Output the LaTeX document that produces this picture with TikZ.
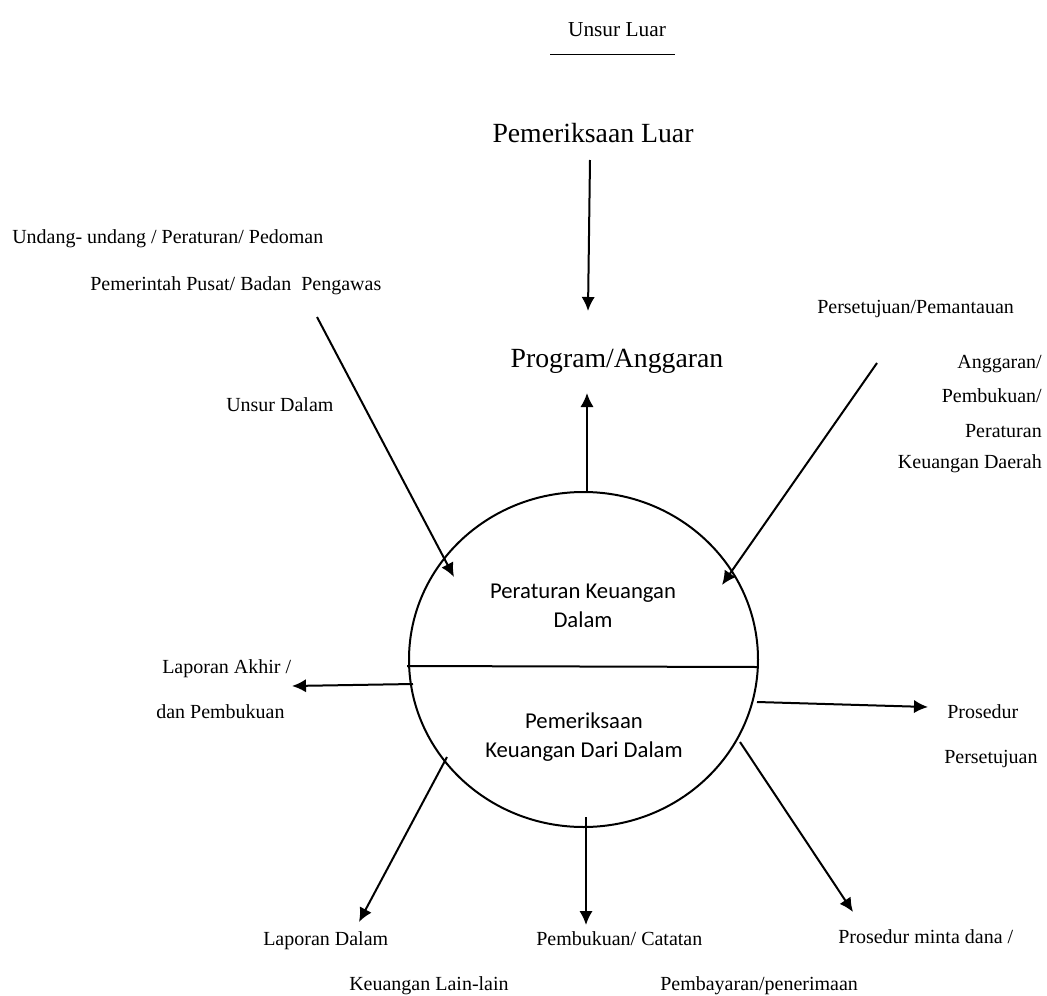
\documentclass[tikz,border=0pt]{standalone}
\usepackage{fontspec}
\setmainfont{Liberation Serif}
\newfontfamily\calibri{Carlito}
\usetikzlibrary{arrows.meta}

\begin{document}
\begin{tikzpicture}[x=0.75pt,y=-0.75pt,
    lbl/.style={font=\fontsize{15}{18}\selectfont, inner sep=0pt, anchor=base west},
    lblr/.style={lbl, anchor=base east},
    big/.style={font=\fontsize{20.8}{24}\selectfont, inner sep=0pt, anchor=base},
    inside/.style={font=\calibri\fontsize{17}{21.75}\selectfont, align=center, inner sep=0pt},
    flow/.style={line width=1.5pt, -{Latex[length=10.5pt,width=10pt]}}]
  \useasboundingbox (0,0) rectangle (1047,996);
  \def\rx{174.5}
  \def\ry{167.5}

  % centre: ellipse split in two
  \coordinate (ctr) at (583.5,659.5);
  \draw[line width=1.5pt] (ctr) ellipse [x radius=\rx, y radius=\ry];
  \coordinate (divL) at (407,666);
  \coordinate (divR) at (757,667);
  \draw[line width=1.5pt] (divL) -- (divR);
  \node[inside] (atas) at (583,606) {Peraturan Keuangan\\Dalam};
  \node[inside] (bawah) at (584,737) {Pemeriksaan\\Keuangan Dari Dalam};

  % top
  \node[lbl, anchor=base, font=\fontsize{16}{19}\selectfont] (luar) at (617,36) {Unsur Luar};
  \coordinate (luarL) at (550,54);
  \coordinate (luarR) at (675,54);
  \draw[line width=0.6pt] (luarL) -- (luarR);
  \node[big] (periksa) at (593,142) {Pemeriksaan Luar};
  \node[big] (program) at (617,367) {Program/Anggaran};
  \coordinate (pA) at (590,160);
  \coordinate (pB) at (588,311);
  \draw[flow] (pA) -- (pB);
  \coordinate (gA) at (587,492);
  \coordinate (gB) at (587,393);
  \draw[flow] (gA) -- (gB);

  % left top
  \node[lbl] (uu) at (12,243) {Undang- undang / Peraturan/ Pedoman};
  \node[lbl] (pusat) at (90,290) {Pemerintah Pusat/ Badan\ \ Pengawas};
  \node[lbl] (dalam) at (226,411) {Unsur Dalam};
  \coordinate (uA) at (317,317);
  \coordinate (uB) at (454,577);
  \draw[flow] (uA) -- (uB);

  % right top
  \node[lbl] (setuju) at (817,313) {Persetujuan/Pemantauan};
  \node[lblr] (ang) at (1042,368) {Anggaran/};
  \node[lblr] (buku) at (1042,402) {Pembukuan/};
  \node[lblr] (atur) at (1042,437) {Peraturan};
  \node[lblr] (daerah) at (1042,468) {Keuangan Daerah};
  \coordinate (sA) at (877,363);
  \coordinate (sB) at (722,585);
  \draw[flow] (sA) -- (sB);

  % sides
  \node[lbl] (akhir) at (162,673) {Laporan Akhir /};
  \node[lbl] (dan) at (156,718) {dan Pembukuan};
  \coordinate (kA) at (413,684);
  \coordinate (kB) at (292,686);
  \draw[flow] (kA) -- (kB);
  \node[lbl] (pros) at (947,718) {Prosedur};
  \node[lbl] (pers) at (944,763) {Persetujuan};
  \coordinate (nA) at (757,702);
  \coordinate (nB) at (928,707);
  \draw[flow] (nA) -- (nB);

  % bottom
  \node[lbl] (lapd) at (263,945) {Laporan Dalam};
  \node[lbl] (lain) at (349,990) {Keuangan Lain-lain};
  \node[lbl] (catat) at (536,945) {Pembukuan/ Catatan};
  \node[lbl] (bayar) at (660,990) {Pembayaran/penerimaan};
  \node[lbl] (minta) at (838,943) {Prosedur minta dana /};
  \coordinate (bA) at (447,757);
  \coordinate (bB) at (359,922);
  \draw[flow] (bA) -- (bB);
  \coordinate (cA) at (586,817);
  \coordinate (cB) at (586,925);
  \draw[flow] (cA) -- (cB);
  \coordinate (dA) at (740,742);
  \coordinate (dB) at (853,912);
  \draw[flow] (dA) -- (dB);
\end{tikzpicture}
\end{document}
